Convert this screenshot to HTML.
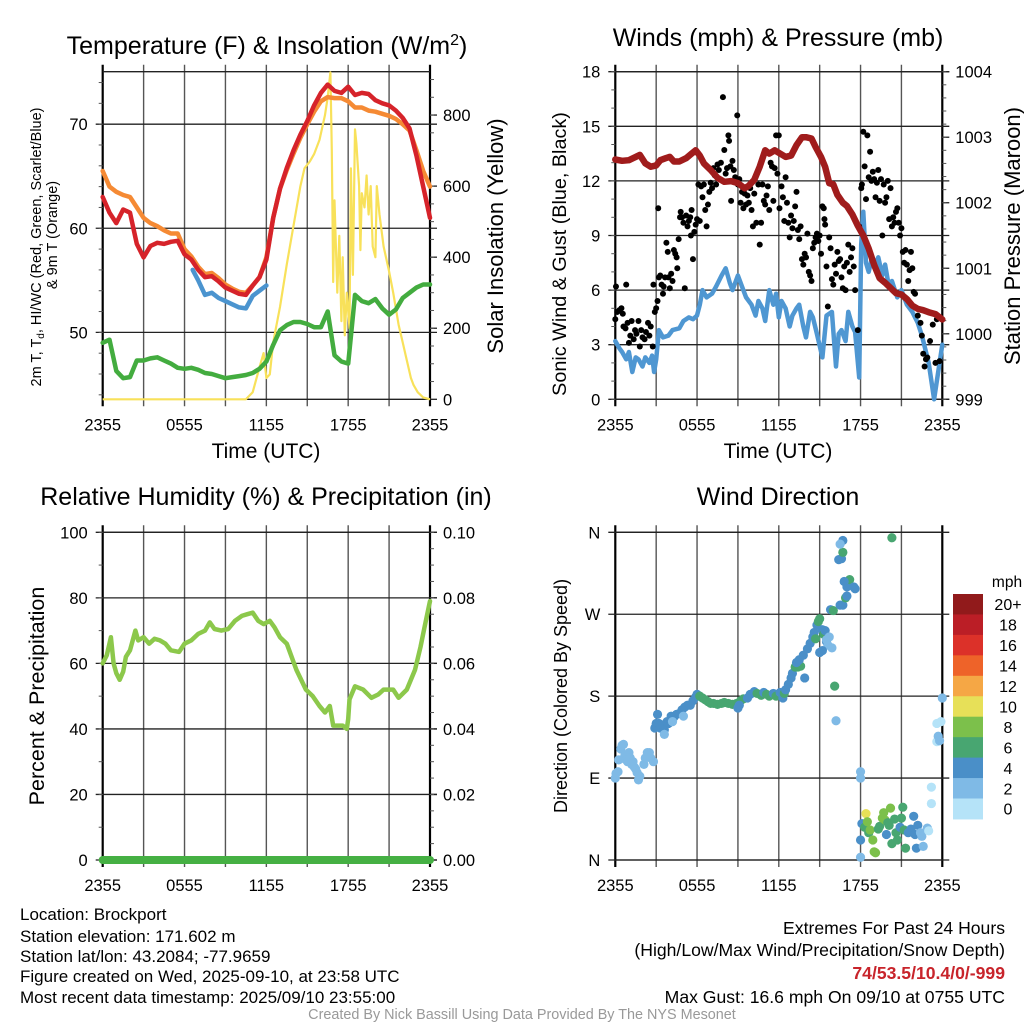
<!DOCTYPE html>
<html><head><meta charset="utf-8">
<style>
html,body{margin:0;padding:0;background:#fff;}
svg{display:block;font-family:"Liberation Sans",Arial,sans-serif;}
</style></head>
<body>
<svg id="fig" width="1024" height="1024" viewBox="0 0 1024 1024" xmlns="http://www.w3.org/2000/svg">
<rect x="0" y="0" width="1024" height="1024" fill="#fff"/>
<text x="267" y="54" font-size="25" text-anchor="middle">Temperature (F) &amp; Insolation (W/m<tspan dy="-9" font-size="16">2</tspan><tspan dy="9">)</tspan></text>
<text x="778" y="46" font-size="25" text-anchor="middle">Winds (mph) &amp; Pressure (mb)</text>
<text x="266" y="505" font-size="25" text-anchor="middle">Relative Humidity (%) &amp; Precipitation (in)</text>
<text x="778" y="505" font-size="25" text-anchor="middle">Wind Direction</text>

<text transform="translate(41,247) rotate(-90)" font-size="14.5" text-anchor="middle">2m T, T<tspan dy="3" font-size="10">d</tspan><tspan dy="-3">, HI/WC (Red, Green, Scarlet/Blue)</tspan></text>
<text transform="translate(57,235) rotate(-90)" font-size="14.5" text-anchor="middle">&amp; 9m T (Orange)</text>
<text transform="translate(503,236) rotate(-90)" font-size="22" text-anchor="middle">Solar Insolation (Yellow)</text>
<text transform="translate(566,254) rotate(-90)" font-size="19.8" text-anchor="middle">Sonic Wind &amp; Gust (Blue, Black)</text>
<text transform="translate(1020,236) rotate(-90)" font-size="22" text-anchor="middle">Station Pressure (Maroon)</text>
<text transform="translate(44,696) rotate(-90)" font-size="21.5" text-anchor="middle">Percent &amp; Precipitation</text>
<text transform="translate(567,696) rotate(-90)" font-size="18" text-anchor="middle">Direction (Colored By Speed)</text>
<text x="266" y="458" font-size="21" text-anchor="middle">Time (UTC)</text>
<text x="778" y="458" font-size="21" text-anchor="middle">Time (UTC)</text>

<g font-size="17">
<text x="20" y="920">Location: Brockport</text>
<text x="20" y="942">Station elevation: 171.602 m</text>
<text x="20" y="962">Station lat/lon: 43.2084; -77.9659</text>
<text x="20" y="982">Figure created on Wed, 2025-09-10, at 23:58 UTC</text>
<text x="20" y="1003">Most recent data timestamp: 2025/09/10 23:55:00</text>
</g>
<g font-size="17.6" text-anchor="end">
<text x="1005" y="934">Extremes For Past 24 Hours</text>
<text x="1005" y="956">(High/Low/Max Wind/Precipitation/Snow Depth)</text>
<text x="1005" y="979" fill="#c8242b" font-weight="bold">74/53.5/10.4/0/-999</text>
<text x="1005" y="1003">Max Gust: 16.6 mph On 09/10 at 0755 UTC</text>
</g>
<text x="522" y="1019" font-size="14.4" fill="#999" text-anchor="middle">Created By Nick Bassill Using Data Provided By The NYS Mesonet</text>
</svg>
<script>
// ---------- DATA ----------
const tickHours = [0, 6, 12, 18, 24];
const tickLabels = ["2355", "0555", "1155", "1755", "2355"];
const tempHours = [0,0.5,1,1.5,2,2.5,3,3.5,4,4.5,5,5.5,6,6.5,7,7.5,8,8.5,9,9.5,10,10.5,11,11.5,12,12.5,13,13.5,14,14.5,15,15.5,16,16.5,17,17.5,18,18.5,19,19.5,20,20.5,21,21.5,22,22.5,23,23.5,24];
const tempRed = [63,61.5,60.5,61.8,61.5,58.5,57.2,58.3,58.6,58.5,58.7,58.8,57.5,57.0,56.0,55.3,55.4,54.9,54.3,54.0,53.7,53.6,54.5,55.3,57.0,61.0,63.8,65.8,67.5,69.0,70.3,71.8,73.0,73.8,73.2,73.0,73.6,72.8,73.0,72.9,72.3,72.0,71.8,71.3,70.6,69.6,67.0,64.0,61.0];
const tempOrange = [65.5,64.0,63.5,63.2,63.0,62.0,61.0,60.5,60.2,59.8,59.5,59.5,58.0,57.3,56.3,55.6,55.7,55.2,54.6,54.2,53.9,53.8,54.5,55.3,57.2,61.0,63.8,65.6,67.2,68.7,70.0,71.2,72.2,72.6,72.5,72.5,72.2,71.6,71.6,71.3,71.2,71.0,70.8,70.5,70.0,69.4,67.5,65.5,64.0];
const dewGreen = [49.0,49.3,46.3,45.6,45.7,47.3,47.3,47.5,47.6,47.3,47.0,46.6,46.5,46.6,46.4,46.1,46.0,45.8,45.6,45.7,45.8,45.9,46.1,46.5,47.2,48.8,50.2,50.7,51.0,51.0,50.8,50.5,50.5,52.0,47.8,47.2,47.0,53.6,53.0,52.8,53.2,52.3,51.7,52.2,53.3,53.8,54.3,54.6,54.6];
const hiHours = [6.6,7,7.5,8,8.5,9,9.5,10,10.5,11,11.5,12];
const hiBlue = [56,55,53.6,53.8,53.3,53.0,52.7,52.4,52.3,53.5,54.0,54.5];
const solarHours = [0,10.5,11,11.5,11.8,12.0,12.25,12.5,12.7,13.0,13.5,14.0,14.5,14.8,15.2,15.5,15.9,16.3,16.5,16.7,16.8,16.9,17.0,17.1,17.2,17.35,17.5,17.6,17.75,17.9,18.1,18.2,18.35,18.5,18.6,18.8,18.9,19.0,19.2,19.35,19.5,19.65,19.8,20.0,20.1,20.3,20.6,21.0,21.3,21.7,22.0,22.3,22.6,22.8,23.1,23.5,24];
const solarVals = [0,0,20,90,130,60,70,160,200,260,380,490,600,650,670,690,730,800,850,920,700,330,560,430,300,460,220,400,180,300,200,650,350,760,720,600,420,580,540,630,520,600,430,400,600,520,430,360,300,210,160,110,60,40,20,5,0];

const windHours = [0,0.3,0.5,0.8,1.0,1.25,1.5,1.7,2.0,2.2,2.5,2.7,2.85,3.0,3.2,3.5,3.9,4.2,4.7,5.0,5.4,5.7,6.0,6.2,6.4,6.7,7.1,7.4,7.8,8.1,8.4,8.6,9.0,9.3,9.6,10.0,10.3,10.5,10.8,11.0,11.3,11.6,11.8,12.0,12.2,12.5,12.8,13.0,13.3,13.5,13.8,14.0,14.3,14.5,14.8,15.2,15.5,15.9,16.2,16.4,16.6,16.9,17.1,17.4,17.6,17.9,18.05,18.2,18.4,18.6,18.85,19.1,19.3,19.6,19.8,20.1,20.3,20.7,21.0,21.4,21.8,22.2,22.5,22.8,23.0,23.2,23.4,23.7,24];
const windBlue = [3.2,2.8,2.6,2.2,2.6,1.5,2.3,2.2,1.8,2.3,2.0,2.4,1.5,2.2,3.8,3.4,3.5,3.8,3.9,4.3,4.5,4.4,4.6,5.2,6.0,5.6,5.8,6.2,6.8,7.2,6.4,6.0,6.8,6.2,5.6,5.2,4.6,5.4,5.0,4.3,6.0,5.2,5.8,4.5,5.4,5.0,4.0,4.6,5.0,5.2,4.0,3.4,4.8,4.5,3.6,2.3,4.6,4.8,1.8,3.6,3.8,3.2,4.8,4.0,3.7,1.2,8.5,10.3,7.5,7.0,7.8,7.4,7.8,6.8,7.4,6.1,6.5,5.6,6.0,5.2,4.8,4.2,3.5,2.6,2.0,1.0,0.0,1.5,3.0];
const gustHours = [0,0.05,0.15,0.3,0.45,0.55,0.6,0.75,0.8,0.9,1.0,1.1,1.2,1.35,1.45,1.55,1.7,1.8,1.9,2.0,2.15,2.25,2.4,2.5,2.6,2.75,2.8,2.9,3.0,3.1,3.15,3.2,3.3,3.4,3.5,3.55,3.65,3.75,3.85,3.9,4.0,4.1,4.2,4.3,4.4,4.5,4.55,4.65,4.75,4.8,4.9,5.0,5.1,5.2,5.3,5.4,5.5,5.55,5.6,5.7,5.8,5.9,6.0,6.1,6.2,6.3,6.4,6.5,6.6,6.7,6.8,6.9,7.0,7.1,7.2,7.3,7.4,7.5,7.6,7.75,7.9,8.0,8.1,8.2,8.3,8.35,8.45,8.5,8.6,8.7,8.8,8.95,9.0,9.1,9.2,9.3,9.4,9.5,9.6,9.7,9.8,9.9,10.0,10.1,10.2,10.35,10.5,10.6,10.7,10.8,10.9,11.0,11.1,11.2,11.3,11.4,11.5,11.6,11.7,11.8,11.9,12.0,12.05,12.2,12.3,12.4,12.5,12.6,12.7,12.8,12.9,13.0,13.1,13.2,13.3,13.4,13.5,13.6,13.7,13.8,13.9,14.0,14.1,14.2,14.3,14.4,14.5,14.6,14.7,14.8,14.9,15.0,15.1,15.2,15.3,15.35,15.4,15.5,15.6,15.7,15.8,15.9,16.0,16.1,16.2,16.3,16.4,16.5,16.6,16.7,16.8,16.9,17.0,17.1,17.2,17.3,17.4,17.5,17.6,17.8,17.9,18.05,18.1,18.2,18.3,18.4,18.5,18.6,18.7,18.8,18.9,19.0,19.1,19.2,19.3,19.4,19.5,19.6,19.7,19.8,19.9,20.0,20.1,20.2,20.3,20.4,20.5,20.6,20.7,20.8,20.9,21.0,21.1,21.2,21.3,21.4,21.5,21.6,21.7,21.8,21.9,22.0,22.2,22.4,22.5,22.6,22.7,22.8,22.9,23.1,23.3,23.5,23.6,23.8];
const gustVals = [4.4,6.2,4.8,4.9,5.0,4.7,4.0,3.9,6.3,4.2,3.1,3.5,4.3,3.3,3.8,3.6,4.3,2.9,3.8,3.4,3.3,3.7,4.2,3.5,4.0,2.9,6.3,4.8,5.0,5.4,10.5,6.7,6.8,6.3,5.8,6.2,6.7,8.6,8.1,6.7,6.1,6.9,6.5,8.2,8.0,7.8,7.2,8.8,10.0,10.3,10.0,9.7,6.1,10.1,9.5,9.8,10.0,9.0,10.4,7.7,9.2,9.6,9.9,11.8,9.8,11.7,11.1,11.8,10.4,9.5,10.7,11.4,11.9,11.6,12.7,12.3,11.8,12.9,12.6,13.0,16.6,13.7,12.4,12.7,14.5,14.2,12.8,10.9,13.1,12.6,12.2,15.6,11.8,12.1,10.8,11.4,10.5,11.3,10.7,11.2,10.8,11.6,10.4,9.5,11.3,9.7,11.8,8.5,9.7,11.8,10.9,10.7,11.2,11.7,10.4,13.0,12.8,10.9,12.7,14.5,12.4,14.5,10.5,11.7,11.1,9.8,12.2,10.8,9.7,8.9,10.1,9.4,9.8,10.6,11.4,9.3,8.8,9.5,7.7,7.4,8.0,7.8,9.1,7.0,6.8,6.5,8.3,8.6,8.9,9.1,8.7,9.0,8.0,10.6,10.5,9.9,9.6,7.3,5.1,8.9,8.3,6.6,6.3,7.4,6.9,8.1,7.6,7.7,6.7,6.1,7.3,6.0,7.5,8.5,7.0,7.8,8.3,7.3,6.0,3.8,9.5,11.6,11.8,14.7,12.8,11.0,14.5,12.2,13.6,12.0,12.5,12.1,11.1,11.9,12.6,10.9,12.1,9.0,11.8,10.8,11.1,12.0,9.9,11.6,9.5,10.0,9.7,10.3,10.5,9.7,9.0,9.4,8.1,7.5,8.2,7.4,6.5,7.1,8.1,7.2,5.9,5.8,4.6,4.2,3.5,2.5,1.8,2.2,2.3,3.2,4.1,2.0,4.4,2.1];
const presHours = [0,0.5,1,1.5,1.8,2.2,2.6,3.0,3.3,3.7,4.0,4.3,4.7,5.2,5.6,5.9,6.2,6.5,7.0,7.5,8.0,8.5,9.0,9.5,9.8,10.2,10.6,11.0,11.3,11.7,12.1,12.5,12.9,13.3,13.7,14.0,14.4,14.7,15.1,15.4,15.7,16.0,16.3,16.7,17.0,17.4,17.8,18.2,18.6,19.0,19.4,19.8,20.2,20.6,21.0,21.4,21.8,22.2,22.6,23.0,23.5,24];
const presVals = [1002.66,1002.64,1002.65,1002.7,1002.73,1002.6,1002.55,1002.57,1002.65,1002.68,1002.7,1002.63,1002.63,1002.68,1002.75,1002.8,1002.72,1002.6,1002.5,1002.38,1002.32,1002.33,1002.3,1002.22,1002.26,1002.35,1002.55,1002.8,1002.75,1002.8,1002.75,1002.7,1002.72,1002.88,1003.0,1003.0,1002.98,1002.85,1002.7,1002.55,1002.3,1002.28,1002.12,1002.0,1001.95,1001.82,1001.65,1001.5,1001.3,1001.05,1000.85,1000.78,1000.7,1000.62,1000.6,1000.53,1000.43,1000.38,1000.36,1000.33,1000.3,1000.22];

const rhHours = [0,0.3,0.6,0.8,1.0,1.25,1.5,1.7,2.0,2.4,2.6,3.0,3.4,3.8,4.2,4.6,5.0,5.6,6.0,6.5,7.0,7.5,7.85,8.2,8.7,9.2,9.7,10.2,10.6,11.0,11.4,11.8,12.25,12.6,13.0,13.5,14.2,14.9,15.4,15.9,16.3,16.65,16.9,17.6,17.9,18.0,18.1,18.5,19.1,19.7,20.2,20.6,21.3,21.7,22.3,22.9,23.3,23.6,23.9,24];
const rhVals = [60,62.5,68,60,57,55,57.5,62,64,70,67,68,66,67.5,67,66,64,63.5,66,67,69,70,72.5,70.5,70,70.5,73,74.5,75,75.5,73,72,73,71,68,66,58,52,50,47,45,47,41,41,40,43,49,53,52,49.5,50.5,52,52,49.5,52,58,65,71,77,79];
const precipHours = [0,24];
const precipVals = [0,0];

const dirHours = [0,0.05,0.2,0.25,0.4,0.5,0.6,0.7,0.8,0.9,1.0,1.1,1.2,1.3,1.4,1.5,1.6,1.7,1.8,2.1,2.2,2.35,2.5,2.6,2.8,2.9,3.0,3.1,3.2,3.3,3.5,3.6,3.8,3.9,4.1,4.3,4.5,4.7,4.9,5.1,5.3,5.5,5.7,5.9,6.0,3.6,4.2,5.0,6.2,6.4,6.6,6.8,7.0,7.2,7.5,7.8,8.0,8.3,8.6,8.9,9.2,9.4,9.0,9.1,9.7,9.9,10.2,10.4,10.7,10.9,11.1,11.3,11.6,11.8,12.1,12.3,12.4,12.5,12.7,12.9,13.0,13.2,13.4,13.6,13.3,13.5,13.8,13.9,14.1,14.3,14.5,14.6,14.8,14.7,14.9,15.0,15.2,15.3,15.4,15.5,15.6,15.2,15.0,15.9,15.7,15.5,15.8,16.0,16.1,16.2,16.5,16.7,16.9,17.0,17.2,17.5,17.6,16.8,17.0,16.4,16.6,16.7,16.7,16.5,18.0,18.0,18.0,18.0,18.1,18.3,18.4,18.5,18.6,18.7,18.9,19.0,19.1,19.3,19.4,19.6,19.7,19.8,19.9,20.0,20.1,20.2,20.3,20.5,20.6,20.7,20.9,21.0,21.1,21.2,21.3,21.5,21.7,21.9,22.0,22.1,22.2,22.4,22.5,22.6,22.9,23.0,23.2,23.2,23.6,23.6,23.7,23.8,23.9,24.0,20.3];
const dirDegrees = [90,95,97,110,122,126,127,115,110,108,118,112,105,108,102,100,96,88,92,105,112,118,118,112,108,145,150,160,150,145,148,143,152,150,158,157,160,161,165,168,170,170,175,179,182,138,152,158,180,178,176,174,172,172,171,172,173,172,171,172,175,177,167,170,178,182,185,183,181,184,182,180,183,180,184,178,183,187,193,200,205,212,212,213,217,220,225,200,232,238,245,250,258,243,262,265,253,248,252,240,236,230,228,233,245,242,275,274,191,153,280,280,288,300,308,300,298,306,290,330,331,338,351,347,97,90,3,22,40,36,51,42,30,33,22,9,8,34,37,46,52,44,28,41,38,57,18,45,30,22,36,46,58,33,13,30,34,48,28,13,38,30,26,15,35,32,62,80,130,150,136,131,152,178,354];
const dirSpeeds = [3,3,3,3,3,3,3,3,3,3,3,3,3,3,3,3,3,3,3,3,3,3,3,3,3,5,5,5,5,5,5,5,5,5,5,5,5,5,5,5,5,5,5,5,5,3,3,3,7,7,7,7,7,7,7,7,7,7,7,7,7,7,5,5,5,5,5,7,7,5,7,7,5,7,5,5,7,5,5,5,5,7,7,7,5,5,5,5,5,5,5,5,5,7,7,7,5,7,5,5,3,5,5,3,3,3,5,7,7,3,5,5,7,5,7,5,5,5,5,5,5,7,5,3,3,3,3,5,5,7,10,9,7,9,9,9,9,7,7,9,9,9,5,7,7,9,7,7,7,7,5,7,7,7,7,5,5,5,5,5,5,3,3,3,3,1,1,1,1,1,3,3,1,3,7];
const speedBins = ["0","2","4","6","8","10","12","14","16","18","20+"];
const binColors = ["#b5e3f8","#7fbae6","#4a8fc8","#48a671","#7cc04b","#e7e058","#f5a745","#ee6329","#dc3129","#bb1e26","#911a1b"];

// ---------- HELPERS ----------
const NS = "http://www.w3.org/2000/svg";
const svg = document.getElementById("fig");
function mk(tag, attrs, parent) {
  const el = document.createElementNS(NS, tag);
  for (const k in attrs) el.setAttribute(k, attrs[k]);
  (parent || svg).appendChild(el);
  return el;
}
function lin(d0, d1, r0, r1) { return v => r0 + (v - d0) * (r1 - r0) / (d1 - d0); }
const TF = 16.5;

function drawFrame(P, leftTicks, leftFmt, leftMinor, rightTicks, rightFmt, rightMinor, yL, yR, name) {
  const g = mk("g", {});
  
  
  for (let h = 0; h <= 24; h += 3) {
    const x = P.x(h);
    const l = mk("line", {x1:x, x2:x, y1:P.y0 - 7, y2:P.y1 + 7, stroke:(h===0||h===24)?"#000":"#555", "stroke-width":(h===0||h===24)?2.2:1.4}, g);
    
    
  }
  leftTicks.forEach(v => {
    const y = yL(v);
    const l = mk("line", {x1:P.x0 - 7, x2:P.x1 + 7, y1:y, y2:y, stroke:"#222", "stroke-width":1.3}, g);
    
    
    const t = mk("text", {x:P.x0 - 15, y:y + 6, "font-size":TF, "text-anchor":"end"}, g);
    t.textContent = leftFmt(v);
    
    
  });
  leftMinor.forEach(v => {
    const y = yL(v);
    const l = mk("line", {x1:P.x0 - 4, x2:P.x0, y1:y, y2:y, stroke:"#555", "stroke-width":1}, g);
    
    
  });
  rightTicks.forEach(v => {
    const y = yR(v);
    const l = mk("line", {x1:P.x1, x2:P.x1 + 7, y1:y, y2:y, stroke:"#222", "stroke-width":1.3}, g);
    
    
    const t = mk("text", {x:P.x1 + 13, y:y + 6, "font-size":TF}, g);
    t.textContent = rightFmt(v);
    
    
  });
  rightMinor.forEach(v => {
    const y = yR(v);
    const l = mk("line", {x1:P.x1, x2:P.x1 + 4, y1:y, y2:y, stroke:"#555", "stroke-width":1}, g);
    
    
  });
  const top = mk("line", {x1:P.x0, x2:P.x1, y1:P.y0, y2:P.y0, stroke:"#222", "stroke-width":1.3}, g);
  
  
  const bot = mk("line", {x1:P.x0, x2:P.x1, y1:P.y1, y2:P.y1, stroke:"#222", "stroke-width":1.3}, g);
  
  
  tickHours.forEach((h, i) => {
    const t = mk("text", {x:P.x(h), y:P.y1 + 31, "font-size":TF, "text-anchor":"middle"}, g);
    t.textContent = tickLabels[i];
    
    
  });
}
function pathD(xs, ys, fx, fy) {
  return xs.map((h, i) => (i ? "L" : "M") + fx(h).toFixed(1) + "," + fy(ys[i]).toFixed(1)).join("");
}
function range(a, b, s) { const r = []; for (let v = a; v <= b + 1e-9; v += s) r.push(+v.toFixed(4)); return r; }

// ---------- PANEL 1 : Temperature ----------
const P1 = {x0:102.7, x1:430, y0:71.7, y1:399.3};
P1.x = lin(0, 24, P1.x0, P1.x1);
const yT = lin(43.57, 75.04, P1.y1, P1.y0);
const yS = lin(0, 922, P1.y1, P1.y0);
drawFrame(P1, [50,60,70], v => v, range(44,74,2), [0,200,400,600,800], v => v, range(50,900,50), yT, yS, "temperature");
{
  const s = mk("path", {d:pathD(solarHours, solarVals, P1.x, yS), fill:"none", stroke:"#f8e15a", "stroke-width":2.2, "stroke-linejoin":"round"});
  
  
  const g = mk("path", {d:pathD(tempHours, dewGreen, P1.x, yT), fill:"none", stroke:"#43ac3f", "stroke-width":4.5, "stroke-linejoin":"round", "stroke-linecap":"round"});
  
  
  const o = mk("path", {d:pathD(tempHours, tempOrange, P1.x, yT), fill:"none", stroke:"#f58a34", "stroke-width":4.5, "stroke-linejoin":"round", "stroke-linecap":"round"});
  
  
  const r = mk("path", {d:pathD(tempHours, tempRed, P1.x, yT), fill:"none", stroke:"#d6232a", "stroke-width":4.5, "stroke-linejoin":"round", "stroke-linecap":"round"});
  
  
  const b = mk("path", {d:pathD(hiHours, hiBlue, P1.x, yT), fill:"none", stroke:"#4b94cf", "stroke-width":4.5, "stroke-linejoin":"round", "stroke-linecap":"round"});
  
  
}

// ---------- PANEL 2 : Winds ----------
const P2 = {x0:615.3, x1:942.3, y0:71.7, y1:399.3};
P2.x = lin(0, 24, P2.x0, P2.x1);
const yW = lin(0, 18, P2.y1, P2.y0);
const yP = lin(999, 1004, P2.y1, P2.y0);
drawFrame(P2, [0,3,6,9,12,15,18], v => v, range(0,18,1), [999,1000,1001,1002,1003,1004], v => v, range(999,1004,0.2), yW, yP, "wind");
{
  const b = mk("path", {d:pathD(windHours, windBlue, P2.x, yW), fill:"none", stroke:"#4f97d2", "stroke-width":4.5, "stroke-linejoin":"round", "stroke-linecap":"round"});
  
  
  const gg = mk("g", {});
  
  
  gustHours.forEach((h, i) => {
    const c = mk("circle", {cx:P2.x(h), cy:yW(gustVals[i]), r:3, fill:"#000"}, gg);
    
    
  });
  const p = mk("path", {d:pathD(presHours, presVals, P2.x, yP), fill:"none", stroke:"#a01c1c", "stroke-width":6.5, "stroke-linejoin":"round", "stroke-linecap":"round"});
  
  
}

// ---------- PANEL 3 : RH ----------
const P3 = {x0:102.7, x1:430, y0:532.3, y1:860};
P3.x = lin(0, 24, P3.x0, P3.x1);
const yRH = lin(0, 100, P3.y1, P3.y0);
const yPr = lin(0, 0.1, P3.y1, P3.y0);
drawFrame(P3, [0,20,40,60,80,100], v => v, range(0,100,10), [0,0.02,0.04,0.06,0.08,0.1], v => v.toFixed(2), range(0,0.1,0.005), yRH, yPr, "humidity");
{
  const r = mk("path", {d:pathD(rhHours, rhVals, P3.x, yRH), fill:"none", stroke:"#8cc84b", "stroke-width":4.5, "stroke-linejoin":"round", "stroke-linecap":"round"});
  
  
  const p = mk("path", {d:pathD(precipHours, precipVals, P3.x, yPr), fill:"none", stroke:"#45b043", "stroke-width":8, "stroke-linecap":"round"});
  
  
}

// ---------- PANEL 4 : Wind direction ----------
const P4 = {x0:615.3, x1:942.3, y0:532.3, y1:860};
P4.x = lin(0, 24, P4.x0, P4.x1);
const yD = lin(0, 360, P4.y1, P4.y0);
const dirLabels = ["N","E","S","W","N"];
drawFrame(P4, [0,90,180,270,360], v => dirLabels[v/90], [], [], v => v, [], yD, yD, "direction");
{
  const gd = mk("g", {});
  
  
  dirHours.forEach((h, i) => {
    const bin = Math.min(10, Math.floor(dirSpeeds[i] / 2));
    const c = mk("circle", {cx:P4.x(h), cy:yD(dirDegrees[i]), r:4.6, fill:binColors[bin]}, gd);
    
    
  });
  const cb = mk("g", {});
  
  
  const t = mk("text", {x:1007, y:587, "font-size":15.5, "text-anchor":"middle"}, cb);
  t.textContent = "mph";
  
  
  const top = 594, bh = 20.45;
  speedBins.slice().reverse().forEach((lab, k) => {
    const idx = 10 - k;
    const r = mk("rect", {x:953, y:top + k*bh, width:30, height:bh + 0.5, fill:binColors[idx]}, cb);
    
    
    const l = mk("text", {x:1008, y:top + k*bh + bh/2 + 6, "font-size":16, "text-anchor":"middle"}, cb);
    l.textContent = lab;
    
    
  });
}
</script>
</body></html>
